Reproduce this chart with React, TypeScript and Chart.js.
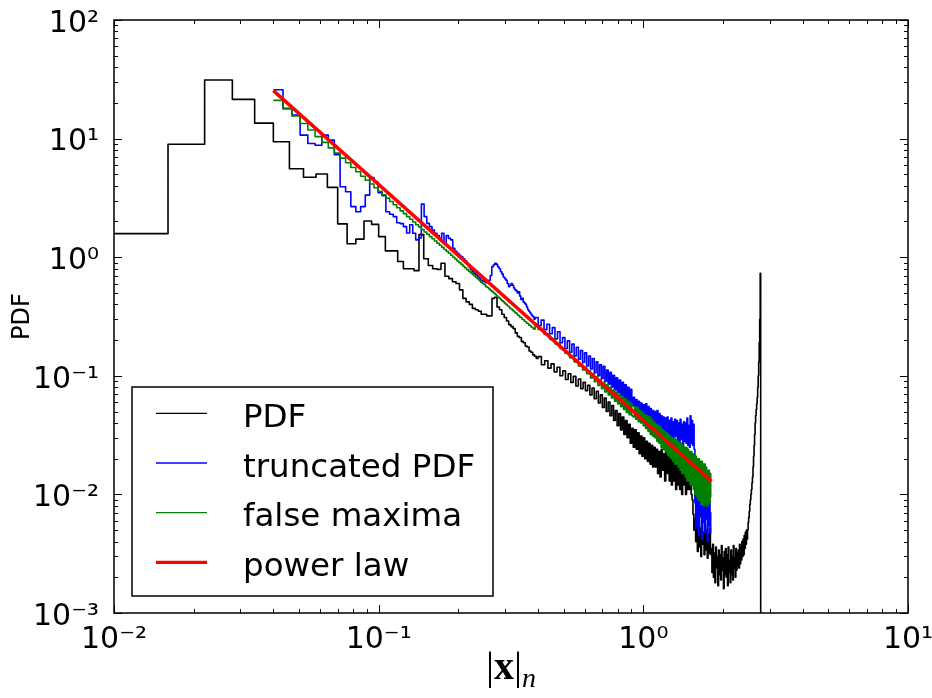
import React, { useEffect, useRef } from "react";
import { Chart, registerables } from "chart.js";

Chart.register(...registerables);

// ---------- axes ----------
const X_MIN = 0.01;
const X_MAX = 10;
const Y_MIN = 0.001;
const Y_MAX = 100;
const X_TICKS = [0.01, 0.1, 1, 10];
const Y_TICKS = [0.001, 0.01, 0.1, 1, 10, 100];
const Y_TITLE = "PDF";

const SERIES_LABELS = ["PDF", "truncated PDF", "false maxima", "power law"];
const SERIES_COLORS = ["#000000", "#0000ff", "#008000", "#ff0000"];

// ---------- histogram bin layouts (left edge, bin width, number of bins) ----------
const PDF_BINS = [
  { start: 0.01, width: 0.006, count: 65 },
  { start: 0.4, width: 0.012, count: 198 },
];
const TRUNCATED_BINS = [
  { start: 0.04, width: 0.0035, count: 100 },
  { start: 0.39, width: 0.0105, count: 135 },
];

// ---------- PDF (black) ----------
const PDF_FINE = [
  1.58, 8.95, 31.2, 21.4, 13.5, 9.4, 5.57, 4.72, 5.03, 3.88,
  1.91, 1.3, 1.42, 2.02, 1.89, 1.49, 1.13, 1.13, 0.92, 0.8,
  0.8, 0.77, 1.55, 0.97, 0.85, 0.8, 0.79, 0.89, 0.69, 0.66,
  0.62, 0.6, 0.53, 0.45, 0.42, 0.4, 0.37, 0.36, 0.35, 0.33,
  0.33, 0.32, 0.32, 0.45, 0.46, 0.38, 0.36, 0.33, 0.31, 0.29,
  0.27, 0.26, 0.25, 0.23, 0.215, 0.21, 0.195, 0.19, 0.178, 0.175,
  0.162, 0.158, 0.15, 0.146, 0.14,
];
const PDF_COARSE = [
  0.145, 0.124, 0.134, 0.116, 0.126, 0.108, 0.118, 0.1, 0.11, 0.093,
  0.104, 0.088, 0.099, 0.082, 0.094, 0.078, 0.088, 0.075, 0.083, 0.069,
  0.079, 0.064, 0.074, 0.059, 0.069, 0.054, 0.065, 0.05, 0.06, 0.046,
  0.056, 0.042, 0.051, 0.038, 0.048, 0.035, 0.045, 0.032, 0.042, 0.03,
  0.039, 0.027, 0.036, 0.025, 0.035, 0.024, 0.033, 0.022, 0.031, 0.021,
  0.03, 0.02, 0.028, 0.019, 0.027, 0.018, 0.026, 0.017, 0.025, 0.017,
  0.024, 0.015, 0.023, 0.014, 0.024, 0.016, 0.022, 0.013, 0.023, 0.015,
  0.021, 0.013, 0.02, 0.012, 0.022, 0.013, 0.019, 0.011, 0.02, 0.012,
  0.019, 0.011, 0.018, 0.01, 0.02, 0.012, 0.017, 0.01, 0.018, 0.011,
  0.014, 0.011, 0.013, 0.01, 0.009, 0.0068, 0.005,
  0.0062, 0.004, 0.0058, 0.0033, 0.0066, 0.0036, 0.0052, 0.003, 0.006, 0.0038,
  0.0048, 0.0031, 0.0055, 0.0034, 0.005, 0.0029, 0.0046, 0.0032, 0.0052, 0.0031,
  0.0035, 0.0022, 0.0038, 0.002, 0.0032, 0.0018, 0.0036, 0.0024, 0.003, 0.0017,
  0.0034, 0.0021, 0.0031, 0.0019, 0.0037, 0.0023, 0.0029, 0.0016, 0.0033, 0.0021,
  0.0035, 0.002, 0.0031, 0.0017, 0.0036, 0.0022, 0.0028, 0.0018, 0.0034, 0.0021,
  0.003, 0.0019, 0.0037, 0.0024, 0.0029, 0.002, 0.0035, 0.0023, 0.0032, 0.0025,
  0.0034, 0.0024, 0.0038, 0.0026, 0.0036, 0.0028, 0.004, 0.003, 0.0042, 0.0031,
  0.0045, 0.0035, 0.0048, 0.0038, 0.005, 0.0042,
  0.005, 0.0058, 0.0064, 0.0072, 0.0082, 0.009, 0.01, 0.011, 0.0125, 0.014,
  0.017, 0.021, 0.026, 0.032, 0.04, 0.046, 0.052, 0.058, 0.066, 0.08,
  0.1, 0.13, 0.19, 0.3, 0.73,
];
const PDF_TAIL = 1e-7; // empty bin after the peak

// ---------- truncated PDF (blue) ----------
const TRUNCATED_FINE = [
  25.8, 18.0, 15.8, 10.7, 9.1, 8.8, 10.7, 9.7, 7.3, 3.93,
  3.56, 2.67, 2.42, 2.67, 3.34, 4.7, 4.3, 3.5, 3.3, 2.42,
  2.3, 2.2, 1.95, 1.92, 1.81, 1.6, 1.88, 1.59, 1.4, 1.45,
  2.8, 2.2, 1.93, 1.81, 1.69, 1.59, 1.52, 1.44, 1.59, 1.31,
  1.52, 1.44, 1.4, 1.19, 1.12, 1.08, 1.04, 1.01, 0.97, 0.93,
  0.88, 0.83, 0.79, 0.755, 0.73, 0.71, 0.68, 0.66, 0.64, 0.63,
  0.62, 0.61, 0.63, 0.64, 0.7, 0.83, 0.86, 0.89, 0.87, 0.83,
  0.8, 0.755, 0.72, 0.68, 0.66, 0.64, 0.6, 0.565, 0.58, 0.6,
  0.58, 0.55, 0.53, 0.52, 0.5, 0.51, 0.47, 0.44, 0.45, 0.42,
  0.41, 0.4, 0.38, 0.36, 0.35, 0.34, 0.33, 0.32, 0.315, 0.3,
];
const TRUNCATED_COARSE = [
  0.31, 0.265, 0.295, 0.245, 0.272, 0.226, 0.255, 0.205, 0.235, 0.19,
  0.21, 0.17, 0.197, 0.158, 0.185, 0.147, 0.174, 0.138, 0.163, 0.13,
  0.156, 0.121, 0.147, 0.114, 0.14, 0.106, 0.131, 0.1, 0.124, 0.095,
  0.12, 0.09, 0.112, 0.085, 0.107, 0.08, 0.101, 0.076, 0.096, 0.072,
  0.092, 0.068, 0.088, 0.064, 0.084, 0.061, 0.08, 0.058, 0.077, 0.056,
  0.066, 0.055, 0.063, 0.052, 0.061, 0.05, 0.059, 0.048, 0.057, 0.047,
  0.058, 0.046, 0.055, 0.044, 0.053, 0.042, 0.051, 0.04, 0.05, 0.039,
  0.051, 0.039, 0.048, 0.037, 0.046, 0.035, 0.045, 0.034, 0.044, 0.033,
  0.045, 0.032, 0.042, 0.031, 0.044, 0.03, 0.041, 0.029, 0.043, 0.031,
  0.042, 0.028, 0.04, 0.027, 0.043, 0.029, 0.039, 0.026, 0.041, 0.028,
  0.04, 0.027, 0.044, 0.026, 0.038, 0.025, 0.046, 0.027, 0.042, 0.026, 0.039, 0.024,
  0.0085, 0.0052, 0.011, 0.006, 0.0095, 0.0045, 0.012, 0.0065, 0.008, 0.0042,
  0.0105, 0.0058, 0.009, 0.0048, 0.0115, 0.0062, 0.0078, 0.004, 0.01, 0.0055,
  0.0088, 0.0047, 0.007,
];

// ---------- false maxima (green) ----------
const FALSE_MAXIMA_FINE = [
  21.0, 17.8, 15.5, 13.4, 11.8, 10.4, 9.3, 8.35, 7.55, 6.85,
  6.25, 5.7, 5.25, 4.82, 4.46, 4.14, 3.85, 3.6, 3.36, 3.15,
  2.95, 2.77, 2.61, 2.46, 2.33, 2.2, 2.09, 1.98, 1.88, 1.8,
  1.71, 1.63, 1.56, 1.49, 1.43, 1.37, 1.31, 1.26, 1.21, 1.16,
  1.12, 1.08, 1.04, 1.0, 0.965, 0.93, 0.9, 0.87, 0.84, 0.81,
  0.785, 0.76, 0.74, 0.715, 0.695, 0.675, 0.655, 0.635, 0.615, 0.6,
  0.585, 0.565, 0.555, 0.54, 0.525, 0.515, 0.5, 0.49, 0.475, 0.462,
  0.452, 0.44, 0.428, 0.42, 0.408, 0.4, 0.39, 0.382, 0.37, 0.366,
  0.356, 0.35, 0.34, 0.337, 0.326, 0.322, 0.312, 0.31, 0.3, 0.297,
  0.288, 0.286, 0.277, 0.276, 0.267, 0.266, 0.258, 0.257, 0.25, 0.247,
];
const FALSE_MAXIMA_COARSE = [
  0.268, 0.246, 0.246, 0.224, 0.226, 0.203, 0.206, 0.186, 0.188, 0.17,
  0.172, 0.155, 0.158, 0.142, 0.146, 0.131, 0.135, 0.121, 0.126, 0.112,
  0.118, 0.104, 0.11, 0.096, 0.104, 0.089, 0.098, 0.083, 0.093, 0.078,
  0.088, 0.073, 0.084, 0.069, 0.08, 0.065, 0.076, 0.061, 0.073, 0.058,
  0.069, 0.055, 0.066, 0.052, 0.064, 0.049, 0.061, 0.047, 0.059, 0.046,
  0.045, 0.055, 0.043, 0.054, 0.041, 0.051, 0.04, 0.049, 0.038, 0.047,
  0.036, 0.046, 0.034, 0.045, 0.032, 0.043, 0.031, 0.041, 0.03, 0.039,
  0.028, 0.038, 0.027, 0.037, 0.025, 0.035, 0.024, 0.034, 0.023, 0.033,
  0.022, 0.032, 0.021, 0.031, 0.02, 0.03, 0.019, 0.03, 0.018, 0.029,
  0.018, 0.028, 0.017, 0.027, 0.016, 0.027, 0.015, 0.026, 0.015, 0.025,
  0.014, 0.025, 0.013, 0.024, 0.013, 0.023, 0.012, 0.023, 0.012, 0.022,
  0.011, 0.022, 0.01, 0.021, 0.0095, 0.02, 0.009, 0.02, 0.0088, 0.019,
  0.0085, 0.019, 0.0082, 0.018, 0.008, 0.018, 0.0085, 0.017, 0.008, 0.016,
  0.0082, 0.016, 0.0085, 0.015, 0.0095,
];

// ---------- power law (red), end points ----------
const POWER_LAW_X = [0.04, 1.81];
const POWER_LAW_Y = [25.4, 0.0129];

type Bin = { start: number; width: number; count: number };

function stepPoints(bins: Bin[], values: number[], tail?: number) {
  const pts: { x: number; y: number }[] = [];
  let idx = 0;
  let edge = bins[0].start;
  for (const b of bins) {
    for (let j = 0; j < b.count; j++) {
      pts.push({ x: b.start + b.width * j, y: values[idx++] });
      edge = b.start + b.width * (j + 1);
    }
  }
  pts.push({ x: edge, y: tail !== undefined ? tail : values[values.length - 1] });
  return pts;
}

const SUP: Record<string, string> = {
  "-": "\u207B", "0": "\u2070", "1": "\u00B9", "2": "\u00B2", "3": "\u00B3",
  "4": "\u2074", "5": "\u2075", "6": "\u2076", "7": "\u2077", "8": "\u2078", "9": "\u2079",
};
function decadeLabel(v: number) {
  const e = String(Math.round(Math.log10(v)));
  return "10" + e.split("").map((c) => SUP[c]).join("");
}

const LEGEND_LINE_WIDTHS = [1.3, 1.3, 1.3, 3.3];

const framePlugin = {
  id: "frameTicks",
  afterDatasetsDraw(chart: any) {
    const { ctx, chartArea } = chart;
    const { left, right, top, bottom } = chartArea;
    const xs = chart.scales.x;
    const ys = chart.scales.y;
    ctx.save();
    ctx.strokeStyle = "#000";
    ctx.lineWidth = 1;
    const major = 8;
    const minor = 4;
    const drawX = (v: number, len: number) => {
      const p = Math.round(xs.getPixelForValue(v)) + 0.5;
      ctx.beginPath();
      ctx.moveTo(p, bottom);
      ctx.lineTo(p, bottom - len);
      ctx.moveTo(p, top);
      ctx.lineTo(p, top + len);
      ctx.stroke();
    };
    const drawY = (v: number, len: number) => {
      const p = Math.round(ys.getPixelForValue(v)) + 0.5;
      ctx.beginPath();
      ctx.moveTo(left, p);
      ctx.lineTo(left + len, p);
      ctx.moveTo(right, p);
      ctx.lineTo(right - len, p);
      ctx.stroke();
    };
    X_TICKS.forEach((v, i) => {
      drawX(v, major);
      if (i < X_TICKS.length - 1) for (let k = 2; k <= 9; k++) drawX(v * k, minor);
    });
    Y_TICKS.forEach((v, i) => {
      drawY(v, major);
      if (i < Y_TICKS.length - 1) for (let k = 2; k <= 9; k++) drawY(v * k, minor);
    });
    ctx.lineWidth = 1.5;
    ctx.strokeRect(left, top, right - left, bottom - top);
    ctx.restore();
  },
};

const legendPlugin = {
  id: "boxLegend",
  afterDraw(chart: any) {
    const { ctx, chartArea } = chart;
    const x0 = chartArea.left + 18;
    const y1 = chartArea.bottom - 17;
    const w = 361;
    const h = 209;
    const y0 = y1 - h;
    ctx.save();
    ctx.fillStyle = "#ffffff";
    ctx.fillRect(x0, y0, w, h);
    ctx.strokeStyle = "#000";
    ctx.lineWidth = 1.5;
    ctx.strokeRect(x0, y0, w, h);
    ctx.font = '32.5px "DejaVu Sans"';
    ctx.textBaseline = "alphabetic";
    ctx.textAlign = "left";
    chart.data.datasets.forEach((ds: any, i: number) => {
      const cy = y0 + 26.3 + i * 49.7;
      ctx.beginPath();
      ctx.strokeStyle = ds.borderColor;
      ctx.lineWidth = LEGEND_LINE_WIDTHS[i];
      ctx.moveTo(x0 + 24, cy);
      ctx.lineTo(x0 + 75, cy);
      ctx.stroke();
      ctx.fillStyle = "#000";
      ctx.fillText(ds.label, x0 + 111, cy + 13.6);
    });
    ctx.restore();
  },
};

const xTitlePlugin = {
  id: "xMathTitle",
  afterDraw(chart: any) {
    const { ctx, chartArea } = chart;
    const parts = [
      { t: "|", font: '40px "Liberation Serif"', dy: 0 },
      { t: "x", font: 'bold 40px "Liberation Serif"', dy: 0 },
      { t: "|", font: '40px "Liberation Serif"', dy: 0 },
      { t: "n", font: 'italic 28px "Liberation Serif"', dy: 8 },
    ];
    ctx.save();
    ctx.fillStyle = "#000";
    ctx.textBaseline = "alphabetic";
    ctx.textAlign = "left";
    let total = 0;
    const widths = parts.map((p) => {
      ctx.font = p.font;
      const wv = ctx.measureText(p.t).width;
      total += wv;
      return wv;
    });
    let x = (chartArea.left + chartArea.right) / 2 - total / 2;
    const base = 679;
    parts.forEach((p, i) => {
      ctx.font = p.font;
      ctx.fillText(p.t, x, base + p.dy);
      x += widths[i];
    });
    ctx.restore();
  },
};

export default function App() {
  const ref = useRef<HTMLCanvasElement | null>(null);
  useEffect(() => {
    if (!ref.current) return;
    const datasets = [
      {
        label: SERIES_LABELS[0],
        data: stepPoints(PDF_BINS, [...PDF_FINE, ...PDF_COARSE], PDF_TAIL),
        borderColor: SERIES_COLORS[0],
        borderWidth: 1.6,
        stepped: true,
        order: 4,
      },
      {
        label: SERIES_LABELS[1],
        data: stepPoints(TRUNCATED_BINS, [...TRUNCATED_FINE, ...TRUNCATED_COARSE]),
        borderColor: SERIES_COLORS[1],
        borderWidth: 1.6,
        stepped: true,
        order: 3,
      },
      {
        label: SERIES_LABELS[2],
        data: stepPoints(TRUNCATED_BINS, [...FALSE_MAXIMA_FINE, ...FALSE_MAXIMA_COARSE]),
        borderColor: SERIES_COLORS[2],
        borderWidth: 1.6,
        stepped: true,
        order: 2,
      },
      {
        label: SERIES_LABELS[3],
        data: POWER_LAW_X.map((x, i) => ({ x, y: POWER_LAW_Y[i] })),
        borderColor: SERIES_COLORS[3],
        borderWidth: 3.5,
        stepped: false,
        order: 1,
      },
    ].map((d) => ({
      ...d,
      pointRadius: 0,
      fill: false,
      tension: 0,
      borderJoinStyle: "round" as const,
    }));

    const chart = new Chart(ref.current, {
      type: "line",
      data: { datasets },
      plugins: [framePlugin, legendPlugin, xTitlePlugin],
      options: {
        animation: false,
        responsive: false,
        devicePixelRatio: 1,
        events: [],
        layout: { padding: { top: 20, right: 24, left: 0, bottom: 0 } },
        plugins: { legend: { display: false }, tooltip: { enabled: false } },
        scales: {
          x: {
            type: "logarithmic",
            min: X_MIN,
            max: X_MAX,
            afterBuildTicks: (s: any) => {
              s.ticks = X_TICKS.map((v) => ({ value: v }));
            },
            afterFit: (s: any) => {
              s.height = 85;
              s.paddingLeft = 0;
              s.paddingRight = 0;
            },
            ticks: {
              callback: (v: any) => decadeLabel(Number(v)),
              autoSkip: false,
              maxRotation: 0,
              minRotation: 0,
              color: "#000",
              padding: 9,
              font: { family: "DejaVu Sans", size: 30 },
            },
            grid: { display: false, drawTicks: false, tickLength: 0 },
            border: { display: false },
          },
          y: {
            type: "logarithmic",
            min: Y_MIN,
            max: Y_MAX,
            afterBuildTicks: (s: any) => {
              s.ticks = Y_TICKS.map((v) => ({ value: v }));
            },
            afterFit: (s: any) => {
              s.width = 114;
              s.paddingTop = 0;
              s.paddingBottom = 0;
            },
            ticks: {
              callback: (v: any) => decadeLabel(Number(v)),
              autoSkip: false,
              color: "#000",
              padding: 15,
              labelOffset: 4,
              font: { family: "DejaVu Sans", size: 30 },
            },
            grid: { display: false, drawTicks: false, tickLength: 0 },
            border: { display: false },
            title: {
              display: true,
              text: Y_TITLE,
              color: "#000",
              font: { family: "DejaVu Sans", size: 24 },
              padding: { top: 8, bottom: 0 },
            },
          },
        },
      },
    });
    return () => chart.destroy();
  }, []);

  return (
    <div style={{ position: "absolute", left: 0, top: 0, width: 932, height: 698, background: "#fff" }}>
      <canvas ref={ref} width={932} height={698} style={{ width: 932, height: 698, display: "block" }} />
    </div>
  );
}
